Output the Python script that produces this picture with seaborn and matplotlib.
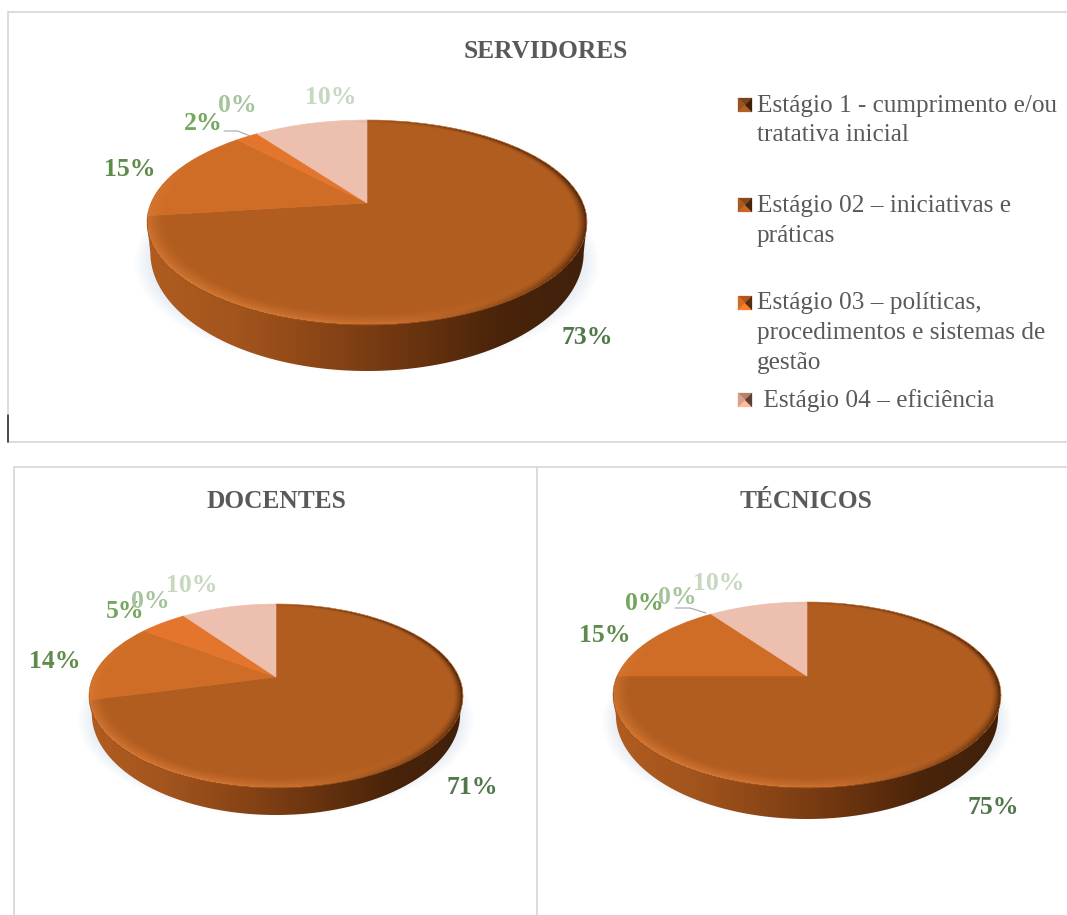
import numpy as np
import matplotlib
matplotlib.use("Agg")
import matplotlib.pyplot as plt
import seaborn as sns
from matplotlib.colors import to_rgb
from matplotlib.lines import Line2D
from matplotlib.patches import Polygon
from matplotlib.transforms import Transform

# ---- data ----
panel_titles = ["SERVIDORES", "DOCENTES", "TÉCNICOS"]
servidores_values = [73, 15, 2, 0, 10]
docentes_values = [71, 14, 5, 0, 10]
tecnicos_values = [75, 15, 0, 0, 10]
legend_labels = [
    ["Estágio 1 - cumprimento e/ou", "tratativa inicial"],
    ["Estágio 02 – iniciativas e", "práticas"],
    ["Estágio 03 – políticas,", "procedimentos e sistemas de", "gestão"],
    [" Estágio 04 – eficiência"],
]

# ---- styling ----
wedge_colors = ["#b15d1f", "#cf6c26", "#e4752c", "#e8a070", "#ecbfaf"]
label_colors = ["#50784a", "#5f8c4c", "#74a65c", "#a6c49c", "#c6d8c0"]
swatch_colors = ["#8a4a1c", "#9c4f1a", "#c4611f", "#c98f78"]
wall_colors = ["#b05c20", "#a3551d", "#8a4516", "#6b340f", "#4a240a", "#40200a"]
frame_color = "#d9d9d9"
text_color = "#595959"
serif = "Liberation Serif"

W, H = 1067, 915


class PerspectiveDisc(Transform):
    """Projects the unit disc onto a tilted disc seen in perspective."""
    input_dims = 2
    output_dims = 2

    def __init__(self, a, b, k):
        super().__init__()
        self.a, self.b, self.k = a, b, k

    def transform_non_affine(self, values):
        values = np.asarray(values, dtype=float)
        d = 1 - self.k * values[:, 1]
        return np.column_stack([self.a * values[:, 0] / d, self.b * values[:, 1] / d])

    def to_disc(self, X, Y):
        y = Y / (self.b + self.k * Y)
        x = X * (1 - self.k * y) / self.a
        return x, y


def make_projection(rx, up, down):
    k = (up - down) / (up + down)
    b = up * (1 - k)
    a = rx * np.sqrt(1 - k * k)
    return PerspectiveDisc(a, b, k)


# Each panel: values, apex position, half width, extent above and below the apex,
# wall height, and where the percentage labels sit.
panels = [
    dict(values=servidores_values, apex=(367, 203), rx=220, up=83, down=122, wall=46,
         title_xy=(546, 51),
         labels=[(587, 338), (130, 169), (203, 123), (237, 106), (331, 98)],
         leader=[(224, 131), (238, 131), (250, 136)]),
    dict(values=docentes_values, apex=(276, 677), rx=187, up=73, down=111, wall=27,
         title_xy=(276, 501),
         labels=[(472, 788), (55, 661), (125, 611), (150, 601), (192, 585)],
         leader=None),
    dict(values=tecnicos_values, apex=(807, 676), rx=194, up=74, down=112, wall=31,
         title_xy=(806, 501),
         labels=[(993, 807), (605, 636), (644, 603), (677, 597), (719, 583)],
         leader=[(675, 608), (690, 608), (706, 613)]),
]

sns.set_theme(style="white")
fig = plt.figure(figsize=(W / 100, H / 100), dpi=100, facecolor="white")


def draw_disc(panel):
    cx, cy = panel["apex"]
    rx, wall = panel["rx"], panel["wall"]
    proj = make_projection(rx, panel["up"], panel["down"])

    # Axes whose data units are pixels measured from the pie's apex, y upwards.
    left, right = cx - rx - 40, cx + rx + 40
    top, bottom = cy - panel["up"] - 10, cy + panel["down"] + wall + 25
    ax = fig.add_axes([left / W, 1 - bottom / H, (right - left) / W, (bottom - top) / H])
    ax.patch.set_alpha(0)
    extent = (left - cx, right - cx, cy - bottom, cy - top)

    xs = np.arange(extent[0], extent[1] + 1.0)
    ys = np.arange(extent[2], extent[3] + 1.0)
    X, Y = np.meshgrid(xs, ys)

    # Soft cast shadow beneath the disc.
    sx, sy = proj.to_disc(X / 1.02, Y + wall * 0.85)
    sr = np.hypot(sx, sy)
    shadow = np.zeros(X.shape + (4,))
    shadow[..., :3] = to_rgb("#d5e0ec")
    shadow[..., 3] = np.clip((1.04 - sr) / 0.08, 0, 1) * 0.6
    ax.imshow(shadow, extent=extent, origin="lower", aspect="auto", zorder=1, interpolation="bilinear")

    # Side wall: the rim, shifted down and stretched, joined to the widest points of the top face.
    t = np.linspace(0, 2 * np.pi, 721)
    rim = proj.transform(np.column_stack([np.cos(t), np.sin(t)]))
    rim_mid = (rim[:, 1].max() + rim[:, 1].min()) / 2
    rim_ry = (rim[:, 1].max() - rim[:, 1].min()) / 2
    widest_left = rim[np.argmin(rim[:, 0])]
    widest_right = rim[np.argmax(rim[:, 0])]
    lower = np.column_stack([
        rim[:, 0] * 0.985,
        rim_mid - 0.65 * wall + (rim[:, 1] - rim_mid) * (rim_ry + 0.35 * wall) / rim_ry,
    ])
    lower = lower[lower[:, 1] < rim_mid - 0.65 * wall]
    lower = lower[np.argsort(lower[:, 0])]
    outline = np.vstack([widest_left, lower, widest_right])
    clip = Polygon(outline, closed=True, transform=ax.transData, facecolor="none", edgecolor="none")
    ax.add_patch(clip)
    wall_cmap = sns.blend_palette(wall_colors, as_cmap=True)
    shade = np.linspace(0, 1, 256).reshape(1, -1)
    wall_im = ax.imshow(shade, cmap=wall_cmap, aspect="auto", zorder=2,
                        extent=(-rx, rx, -panel["down"] - wall - 5, 0), interpolation="bilinear")
    wall_im.set_clip_path(clip)

    # Top face: a regular pie pushed through the perspective projection.
    wedges, _ = ax.pie(panel["values"], colors=wedge_colors, startangle=90, counterclock=False,
                       radius=1.0, normalize=True)
    for wedge, color in zip(wedges, wedge_colors):
        wedge.set_transform(proj + ax.transData)
        wedge.set_edgecolor(color)
        wedge.set_linewidth(0.4)
        wedge.set_zorder(3)

    # Bevel around the rim: a wide lit band at the lower left, a thin dark edge to the right.
    dx, dy = proj.to_disc(X, Y)
    r = np.hypot(dx, dy)
    ux, uy = dx / np.maximum(r, 1e-6), dy / np.maximum(r, 1e-6)
    inside = r <= 1.0
    lit_band = np.clip((r - 0.90) / 0.10, 0, 1) ** 2 * inside
    dark_band = np.clip((r - 0.955) / 0.045, 0, 1) ** 1.5 * inside
    light = np.clip(-0.6 * ux - 0.8 * uy, 0, 1)
    dark = np.clip(0.95 * ux + 0.1 * uy, 0, 1)
    lit_alpha = lit_band * light * 0.8
    dark_alpha = dark_band * dark * 0.9
    lit_rgb, dark_rgb = np.array(to_rgb("#e0803c")), np.array(to_rgb("#3a1a06"))
    weight = lit_alpha / np.maximum(lit_alpha + dark_alpha, 1e-6)
    bevel = np.zeros(X.shape + (4,))
    bevel[..., :3] = weight[..., None] * lit_rgb + (1 - weight[..., None]) * dark_rgb
    bevel[..., 3] = np.clip(lit_alpha + dark_alpha, 0, 1)
    ax.imshow(bevel, extent=extent, origin="lower", aspect="auto", zorder=4, interpolation="bilinear")

    ax.set_aspect("auto")
    ax.set_xlim(extent[0], extent[1])
    ax.set_ylim(extent[2], extent[3])
    ax.axis("off")


for panel in panels:
    draw_disc(panel)

# Overlay in pixel coordinates for frames, titles, labels and the legend.
overlay = fig.add_axes([0, 0, 1, 1])
overlay.set_xlim(0, W)
overlay.set_ylim(H, 0)
overlay.axis("off")
overlay.patch.set_alpha(0)

frame_segments = [
    [(8, 12), (W, 12)], [(8, 12), (8, 442)], [(8, 442), (W, 442)],
    [(14, 467), (W, 467)], [(14, 467), (14, H)], [(537, 467), (537, H)],
]
for seg in frame_segments:
    (x0, y0), (x1, y1) = seg
    overlay.add_line(Line2D([x0, x1], [y0, y1], color=frame_color, lw=1.3))
overlay.add_line(Line2D([8, 8], [415, 442], color="#222222", lw=1.1))

for panel, title in zip(panels, panel_titles):
    overlay.text(*panel["title_xy"], title, family=serif, weight="bold", fontsize=18.3,
                 color=text_color, ha="center", va="center")
    for value, pos, color in zip(panel["values"], panel["labels"], label_colors):
        overlay.text(*pos, f"{value}%", family=serif, weight="bold", fontsize=18.5,
                     color=color, ha="center", va="center")
    if panel["leader"]:
        lx, ly = zip(*panel["leader"])
        overlay.add_line(Line2D(lx, ly, color="#a6a6a6", lw=0.8))

# Legend entries with small bevelled swatches.
legend_swatch_y = [105, 205, 303, 400]
legend_line_y = [[106, 135], [206, 236], [303, 333, 363], [401]]
for lines, ys, sy, color in zip(legend_labels, legend_line_y, legend_swatch_y, swatch_colors):
    x0, x1, y0, y1 = 738, 752, sy - 7, sy + 7
    xc, yc = (x0 + x1) / 2, (y0 + y1) / 2
    base = np.array(to_rgb(color))
    facets = [
        ([(x0, y0), (x1, y0), (xc, yc)], base * 0.9),
        ([(x0, y1), (x1, y1), (xc, yc)], np.clip(base * 1.3, 0, 1)),
        ([(x0, y0), (x0, y1), (xc, yc)], np.clip(base * 1.1, 0, 1)),
        ([(x1, y0), (x1, y1), (xc, yc)], base * 0.45),
    ]
    for pts, shade_rgb in facets:
        overlay.add_patch(Polygon(pts, closed=True, facecolor=shade_rgb, edgecolor=shade_rgb, lw=0.2))
    for line, y in zip(lines, ys):
        overlay.text(757, y, line, family=serif, fontsize=18.2, color=text_color, ha="left", va="center")

fig.savefig("out.png", dpi=100, facecolor="white")
